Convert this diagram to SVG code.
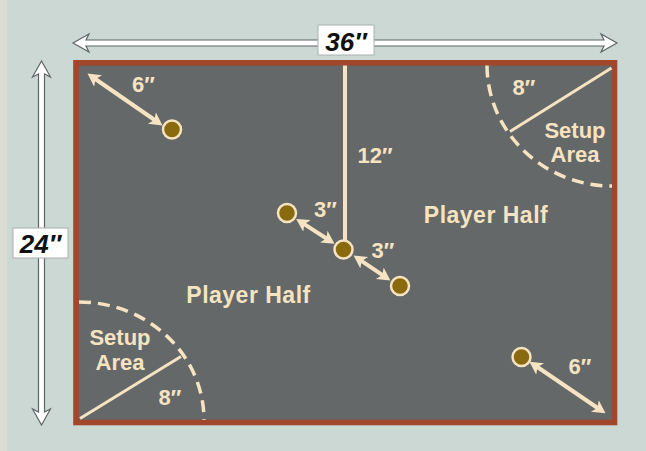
<svg xmlns="http://www.w3.org/2000/svg" width="646" height="451" viewBox="0 0 646 451">
<style>
.lbl{font-family:"Liberation Sans",Arial,sans-serif;font-weight:bold;fill:#f6e3c1;text-anchor:middle}
.dim{font-family:"Liberation Sans",Arial,sans-serif;font-weight:bold;font-style:italic;fill:#111;text-anchor:middle;font-size:26px}
.cl{stroke:#f6e3c1;stroke-width:4;fill:none}
.dash{stroke:#f6e3c1;stroke-width:3.5;fill:none;stroke-dasharray:12 7}
.tok{fill:#8a6a0e;stroke:#f6e3c1;stroke-width:2.5}
.warr{fill:#ffffff;stroke:#5f6566;stroke-width:1.2}
.box{fill:#ffffff;stroke:#a9b0b0;stroke-width:1}
</style>
<defs>
<marker id="ah" markerUnits="userSpaceOnUse" markerWidth="14" markerHeight="16" viewBox="0 -7 13 14" refX="4" refY="0" orient="auto-start-reverse">
<path d="M0,-6.5 L12,0 L0,6.5 L3,0 Z" fill="#f6e3c1"/>
</marker>
</defs>
<rect width="646" height="451" fill="#cbd8d4"/>
<rect width="7" height="451" fill="#dddcd2"/>
<g id="table">
<rect x="76" y="62.8" width="538.5" height="359.7" fill="#646869" stroke="#a2472c" stroke-width="5.6"/>
</g>
<g id="connectors">
<line class="cl" x1="345" y1="65.5" x2="345" y2="240"/>
<line class="cl" x1="94.6" y1="78.5" x2="155.4" y2="120.5" marker-start="url(#ah)" marker-end="url(#ah)"/>
<line class="cl" x1="536.6" y1="366.5" x2="598.4" y2="408.5" marker-start="url(#ah)" marker-end="url(#ah)"/>
<line class="cl" x1="303.4" y1="223.6" x2="327.3" y2="239" marker-start="url(#ah)" marker-end="url(#ah)"/>
<line class="cl" x1="360.7" y1="260.4" x2="383.3" y2="275.6" marker-start="url(#ah)" marker-end="url(#ah)"/>
<path class="dash" d="M487,65.5 A125,121 0 0 0 612,186"/>
<line class="cl" x1="611.5" y1="68" x2="510" y2="131.5" style="stroke-width:3"/>
<path class="dash" d="M79,302 A125,118 0 0 1 204,420"/>
<line class="cl" x1="80" y1="418.5" x2="181" y2="356.5" style="stroke-width:3"/>
</g>
<g id="token-tl"><circle class="tok" cx="172" cy="129.5" r="9"/></g>
<g id="token-br"><circle class="tok" cx="521.5" cy="357" r="9"/></g>
<g id="token-c1"><circle class="tok" cx="287" cy="213" r="9"/></g>
<g id="token-c2"><circle class="tok" cx="343.5" cy="249.5" r="9"/></g>
<g id="token-c3"><circle class="tok" cx="400" cy="286" r="9"/></g>
<g id="labels">
<text class="lbl" x="143.5" y="92" font-size="22">6″</text>
<text class="lbl" x="580" y="374" font-size="22">6″</text>
<text class="lbl" x="375" y="163" font-size="22">12″</text>
<text class="lbl" x="325.5" y="217" font-size="22">3″</text>
<text class="lbl" x="383" y="258" font-size="22">3″</text>
<text class="lbl" x="524" y="95" font-size="22">8″</text>
<text class="lbl" x="170" y="405" font-size="22">8″</text>
<text class="lbl" x="486" y="223" font-size="23" letter-spacing="0.5">Player Half</text>
<text class="lbl" x="248.5" y="303" font-size="23" letter-spacing="0.5">Player Half</text>
<text class="lbl" x="575" y="138" font-size="22">Setup</text>
<text class="lbl" x="575" y="162" font-size="22">Area</text>
<text class="lbl" x="120" y="345" font-size="22">Setup</text>
<text class="lbl" x="120" y="370" font-size="22">Area</text>
</g>
<g id="dim-width">
<path class="warr" d="M73,43 L89,34 L86,40 L604,40 L601,34 L617,43 L601,52 L604,46 L86,46 L89,52 Z"/>
<rect class="box" x="318" y="25" width="56" height="30"/>
<text class="dim" x="346" y="51">36″</text>
</g>
<g id="dim-height">
<path class="warr" d="M41.5,61 L32.5,77 L38.5,74 L38.5,412 L32.5,409 L41.5,425 L50.5,409 L44.5,412 L44.5,74 L50.5,77 Z"/>
<rect class="box" x="13" y="228" width="55" height="30"/>
<text class="dim" x="40.5" y="253">24″</text>
</g>
</svg>
